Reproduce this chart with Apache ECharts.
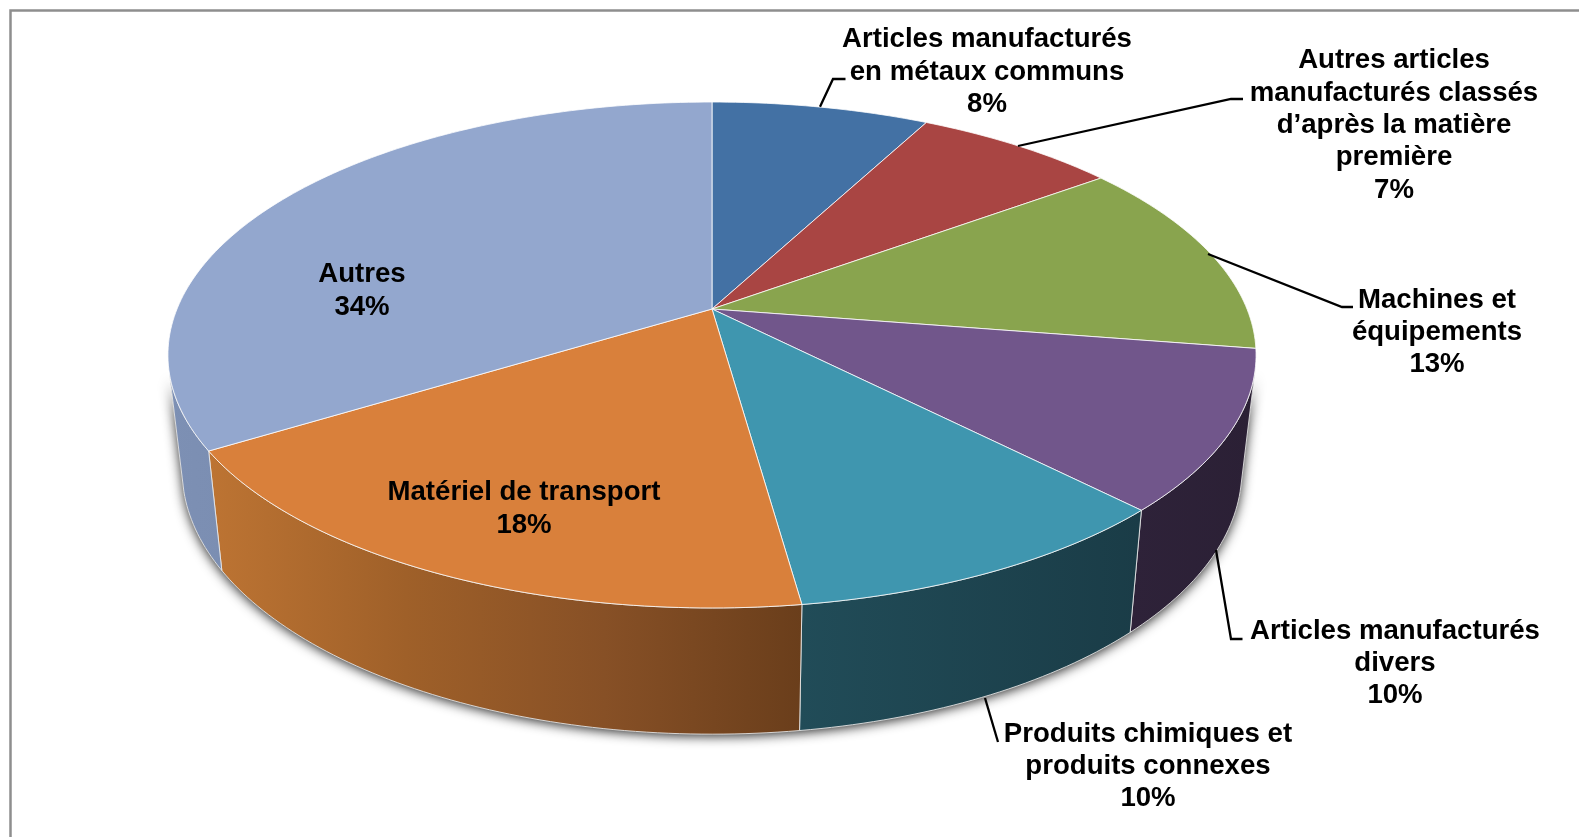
<!DOCTYPE html>
<html><head><meta charset="utf-8">
<style>html,body{margin:0;padding:0;background:#fff;overflow:hidden}#c{width:1579px;height:837px}</style>
<script src="https://cdn.jsdelivr.net/npm/echarts@6/dist/echarts.min.js"></script>
</head><body><div id="c"></div>
<script>
// Data
const categories = ['Articles manufacturés en métaux communs','Autres articles manufacturés classés d’après la matière première','Machines et équipements','Articles manufacturés divers','Produits chimiques et produits connexes','Matériel de transport','Autres'];
const values = [7.7, 7.2, 12.6, 10.2, 10.1, 18.4, 33.8];
const labelLines = [
  ['Articles manufacturés','en métaux communs'],
  ['Autres articles','manufacturés classés','d’après la matière','première'],
  ['Machines et','équipements'],
  ['Articles manufacturés','divers'],
  ['Produits chimiques et','produits connexes'],
  ['Matériel de transport'],
  ['Autres']
];
// Colours
const topColors = ['#4371A4','#A94543','#89A44E','#71568B','#3F96AF','#D9803B','#93A7CE'];
const wallStops = [
  null,null,null,
  ['#2E2239','#2B2035'],
  ['#214C58','#1A3C47'],
  ['#BD7433','#9F6029','#875026','#6A3E1B'],
  ['#7D90B4','#7B8EB2']
];
// Layout
const labelPos = [[987,39.5],[1394,60.5],[1437,300],[1395,631],[1148,734],[524,492.5],[362,274.5]];
const LINE_H = 32.4;
const leaders = [
  [[820,106.7],[833,79],[845.5,79]],
  [[1018,146],[1231,99],[1243,99]],
  [[1208,254],[1342,307],[1353,307]],
  [[1216,550],[1231,639],[1242.5,639]],
  [[985,698],[998,742]]
];
// Perspective of the pie's top and bottom discs
const K = 0.1818;
const TOP = {cx:712, cy:309, a:535, b:244.6};
const BOT = {cx:712, cy:422.5, a:521, b:255};
const WALL_FROM = 104, WALL_TO = 255;
const D = Math.PI/180;
const proj = (d, deg) => {
  const s = Math.sin(deg*D), c = Math.cos(deg*D), w = 1 + K*c;
  return [d.cx + d.a*s/w, d.cy - d.b*c/w];
};
const total = values.reduce((a,b)=>a+b,0);
const starts = [];
values.reduce((acc,v,i)=>{starts[i]=acc;return acc+v;},0);
const arc = (d,a0,a1) => {
  const n = Math.max(2,Math.ceil(Math.abs(a1-a0)/1.0)), p=[];
  for(let i=0;i<=n;i++) p.push(proj(d,a0+(a1-a0)*i/n));
  return p;
};
const span = (i,val) => { const a0=starts[i]/total*360; return [a0,a0+val/total*360]; };

const wallItem = (params, api) => {
  const i = params.dataIndex, [a0,a1] = span(i,api.value(0));
  const children = [];
  if(i===0){
    // soft shadow under the whole visible wall
    const pts = arc(TOP,WALL_FROM,WALL_TO).concat(arc(BOT,WALL_FROM,WALL_TO).reverse());
    children.push({type:'polygon',shape:{points:pts},silent:true,
      style:{fill:'#555',shadowBlur:12,shadowColor:'rgba(0,0,0,0.85)',shadowOffsetX:0,shadowOffsetY:2}});
  }
  const f = Math.max(a0,WALL_FROM), t = Math.min(a1,WALL_TO);
  if(t>f && wallStops[i]){
    const pts = arc(TOP,f,t).concat(arc(BOT,f,t).reverse());
    const st = wallStops[i];
    children.push({type:'polygon',shape:{points:pts},
      style:{fill:new echarts.graphic.LinearGradient(0,0,1,0,st.map((c,j)=>({offset:j/(st.length-1),color:c}))),
             stroke:'rgba(235,235,235,0.85)',lineWidth:1,lineJoin:'round'}});
  }
  return {type:'group',children};
};
const topItem = (params, api) => {
  const i = params.dataIndex, [a0,a1] = span(i,api.value(0));
  const pts = [[TOP.cx,TOP.cy]].concat(arc(TOP,a0,a1));
  return {type:'polygon',shape:{points:pts},
    style:{fill:topColors[i],stroke:'rgba(255,255,255,0.78)',lineWidth:1,lineJoin:'round'}};
};
const graphics = [
  {type:'polyline',silent:true,shape:{points:[[10.5,837],[10.5,10.5],[1579,10.5]]},
   style:{stroke:'#8E8E8E',lineWidth:2.5,fill:null}}
];
leaders.forEach(pts=>graphics.push({type:'polyline',silent:true,z:20,shape:{points:pts},
  style:{stroke:'#000',lineWidth:2.3,fill:null}}));
labelLines.forEach((lines,i)=>{
  const all = lines.concat([Math.round(values[i])+'%']);
  all.forEach((t,j)=>graphics.push({type:'text',silent:true,z:30,
    x:labelPos[i][0], y:labelPos[i][1]+j*LINE_H,
    style:{text:t,fill:'#000',align:'center',verticalAlign:'middle',
      font:'bold 27.6px "Liberation Sans", Arial, sans-serif'}}));
});
const chart = echarts.init(document.getElementById('c'),null,{renderer:'canvas',width:1579,height:837});
chart.setOption({
  animation:false,
  backgroundColor:'#fff',
  graphic:graphics,
  series:[
    {type:'custom',name:'parois',coordinateSystem:'none',z:1,clip:false,renderItem:wallItem,
     data:values.map((v,i)=>({name:categories[i],value:[v]}))},
    {type:'custom',name:'parts',coordinateSystem:'none',z:2,clip:false,renderItem:topItem,
     data:values.map((v,i)=>({name:categories[i],value:[v]}))}
  ]
});
</script></body></html>
